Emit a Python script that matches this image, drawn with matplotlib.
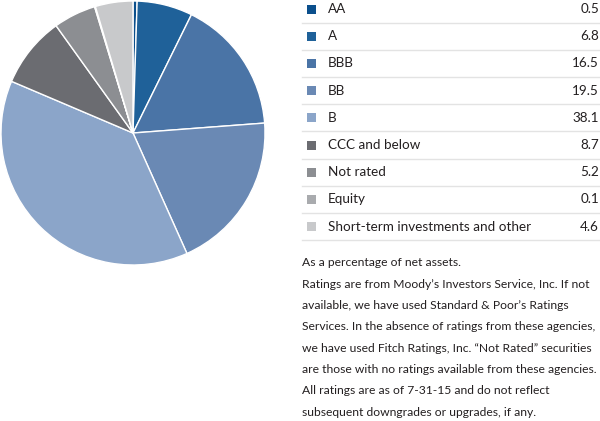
import matplotlib
matplotlib.use("Agg")
import matplotlib.pyplot as plt

# Credit quality data (% of net assets)
labels = ["AA", "A", "BBB", "BB", "B", "CCC and below", "Not rated", "Equity",
          "Short-term investments and other"]
values = [0.5, 6.8, 16.5, 19.5, 38.1, 8.7, 5.2, 0.1, 4.6]
colors = ["#0b4f8c", "#1f6199", "#4a74a6", "#6a89b4", "#8ba5c9",
          "#6b6c71", "#8c8e92", "#a9abae", "#c8c9cb"]

note = "As a percentage of net assets."
footnote = [
    "Ratings are from Moody\u2019s Investors Service, Inc. If not",
    "available, we have used Standard & Poor\u2019s Ratings",
    "Services. In the absence of ratings from these agencies,",
    "we have used Fitch Ratings, Inc. \u201cNot Rated\u201d securities",
    "are those with no ratings available from these agencies.",
    "All ratings are as of 7-31-15 and do not reflect",
    "subsequent downgrades or upgrades, if any.",
]

plt.rcParams['font.family'] = ['Lato', 'DejaVu Sans']
W, H = 600, 421
fig = plt.figure(figsize=(W / 100, H / 100), dpi=100)

# pie on the left
ax = fig.add_axes([1 / W, (H - 265) / H, 264 / W, 264 / H])
ax.pie(values, colors=colors, startangle=90, counterclock=False,
       wedgeprops=dict(edgecolor='white', linewidth=1.0))
ax.set_xlim(-1, 1)
ax.set_ylim(-1, 1)
ax.set_aspect('equal')
ax.axis('off')

# legend table on the right, drawn in pixel coords
tx = fig.add_axes([0, 0, 1, 1])
tx.set_xlim(0, W)
tx.set_ylim(H, 0)
tx.axis('off')

row_h = 27.2
y0 = 9
for i, (lab, val, col) in enumerate(zip(labels, values, colors)):
    y = y0 + i * row_h
    tx.add_patch(plt.Rectangle((307, y - 4.5), 9, 9, color=col, lw=0))
    tx.text(328, y, lab, fontsize=9.7, color='#231f20', va='center', ha='left')
    tx.text(599, y, f"{val:.1f}", fontsize=9.7, color='#231f20', va='center', ha='right')
    tx.plot([302, 600], [y + 13.6, y + 13.6], color='#e3e3e3', lw=1)

tx.text(302, 262, note, fontsize=8.7, color='#231f20', va='center', ha='left')
for j, line in enumerate(footnote):
    tx.text(302, 284 + j * 21.4, line, fontsize=8.7, color='#231f20', va='center', ha='left')

fig.savefig("out.png", dpi=100)
